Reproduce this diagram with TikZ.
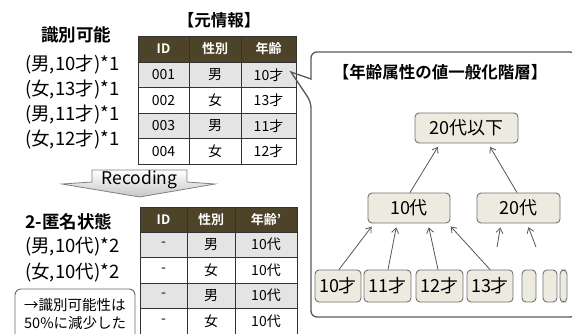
\documentclass[tikz,border=0pt]{standalone}
\usepackage{fontspec}
\setmainfont{Noto Sans CJK JP}[BoldFont={Noto Sans CJK JP Bold}]
\usetikzlibrary{arrows.meta}
\definecolor{hdr}{HTML}{4D4329}
\definecolor{rowg}{HTML}{E4E4E4}
\definecolor{beige}{HTML}{EDEBE0}
\definecolor{bord}{HTML}{333333}
\definecolor{nodeb}{HTML}{707070}
\definecolor{arr}{HTML}{555555}
\tikzset{
  cellbase/.style={draw=bord, line width=0.9pt, inner sep=0pt, font=\fontsize{14}{16}\selectfont},
  hcell/.style={cellbase, fill=hdr, text=white, font=\bfseries\fontsize{13}{15}\selectfont},
  lst/.style={anchor=west, inner sep=0pt, font=\fontsize{18.5}{20}\selectfont},
  ttl/.style={inner sep=0pt, font=\bfseries\fontsize{16.5}{18}\selectfont},
  tnode/.style={draw=nodeb, fill=beige, rounded corners=4pt, line width=0.9pt, inner sep=0pt, font=\fontsize{18}{20}\selectfont},
  garrow/.style={draw=arr, line width=0.8pt, -{Straight Barb[length=5pt,width=7pt]}, shorten >=4pt},
}
\begin{document}
\begin{tikzpicture}[x=1pt,y=-1pt]
\useasboundingbox (0,0) rectangle (572,333);
% ---- left texts
\node[ttl, font=\bfseries\fontsize{17.5}{19}\selectfont] (t-kahi) at (76,35) {識別可能};
\node[lst] (l1) at (25,65) {(男,10才)*1};
\node[lst] (l2) at (25,90) {(女,13才)*1};
\node[lst] (l3) at (25,115) {(男,11才)*1};
\node[lst] (l4) at (25,140) {(女,12才)*1};
\node[ttl] (t-moto) at (219,20) {【元情報】};
% ---- top table
\foreach \c/\xa/\xb/\t in {1/138/189/ID,2/189/241/性別,3/241/296/年齢}
  \node[hcell, minimum width={(\xb-\xa)*1pt}, minimum height=26pt] (ta0\c) at ({(\xa+\xb)/2},49) {\t};
\foreach \r/\ya/\yb/\f/\a/\b/\cc in {1/62/87.5/rowg/001/男/10才,2/87.5/113/white/002/女/13才,3/113/138.5/rowg/003/男/11才,4/138.5/164/white/004/女/12才}{
  \node[cellbase, fill=\f, minimum width=51pt, minimum height={(\yb-\ya)*1pt}] (ta\r1) at (163.5,{(\ya+\yb)/2}) {\a};
  \node[cellbase, fill=\f, minimum width=52pt, minimum height={(\yb-\ya)*1pt}] (ta\r2) at (215,{(\ya+\yb)/2}) {\b};
  \node[cellbase, fill=\f, minimum width=55pt, minimum height={(\yb-\ya)*1pt}] (ta\r3) at (268.5,{(\ya+\yb)/2}) {\cc};
}
% ---- Recoding arrow
\shade[top color=white, bottom color=black!22, draw=black!50, line width=0.8pt]
  (92,170) -- (187,170) -- (187,182) -- (215,184) -- (139.5,197) -- (62,184) -- (92,182) -- cycle;
\node[inner sep=0pt, font=\fontsize{17.5}{19}\selectfont] (rec) at (139.5,180) {Recoding};
% ---- anonymised texts
\node[ttl, anchor=west, font=\bfseries\fontsize{17.5}{19}\selectfont] (t-anon) at (25,222) {2-匿名状態};
\node[lst] (m1) at (25,247) {(男,10代)*2};
\node[lst] (m2) at (25,273) {(女,10代)*2};
\draw[draw=black!60, line width=0.9pt, rounded corners=6pt] (15,345) -- (15,289) -- (135,289) -- (135,345);
\node[anchor=west, inner sep=0pt, font=\fontsize{14.5}{16}\selectfont] (n1) at (24,305) {→識別可能性は};
\node[anchor=west, inner sep=0pt, font=\fontsize{14.5}{16}\selectfont] (n2) at (24,323) {50\%に減少した};
% ---- bottom table
\foreach \c/\xa/\xb/\t in {1/140/187/ID,2/187/235/性別,3/235/297/年齢'}
  \node[hcell, minimum width={(\xb-\xa)*1pt}, minimum height=25pt] (tb0\c) at ({(\xa+\xb)/2},219.5) {\t};
\foreach \r/\ya/\yb/\f/\b in {1/232/257.5/rowg/男,2/257.5/283/white/女,3/283/308.5/rowg/男,4/308.5/334/white/女}{
  \node[cellbase, fill=\f, minimum width=47pt, minimum height={(\yb-\ya)*1pt}] (tb\r1) at (163.5,{(\ya+\yb)/2}) {-};
  \node[cellbase, fill=\f, minimum width=48pt, minimum height={(\yb-\ya)*1pt}] (tb\r2) at (211,{(\ya+\yb)/2}) {\b};
  \node[cellbase, fill=\f, minimum width=62pt, minimum height={(\yb-\ya)*1pt}] (tb\r3) at (266,{(\ya+\yb)/2}) {10代};
}
% ---- callout
\draw[draw=black!65, line width=1.3pt, rounded corners=6pt]
  (311,79) -- (311,52) -- (576,52) -- (576,317) -- (311,317) -- (311,102) [sharp corners] -- (291,72) -- cycle;
\node[ttl] (t-hier) at (440,72) {【年齢属性の値一般化階層】};
% ---- tree
\node[tnode, minimum width=103pt, minimum height=30pt] (top) at (466.5,128) {20代以下};
\node[tnode, minimum width=82pt, minimum height=30pt] (d10) at (409,208) {10代};
\node[tnode, minimum width=83pt, minimum height=30pt] (d20) at (518.5,208) {20代};
\node[tnode, minimum width=46pt, minimum height=32pt] (a10) at (338,286) {10才};
\node[tnode, minimum width=47pt, minimum height=32pt] (a11) at (387.5,286) {11才};
\node[tnode, minimum width=47pt, minimum height=32pt] (a12) at (439.5,286) {12才};
\node[tnode, minimum width=46pt, minimum height=32pt] (a13) at (490,286) {13才};
\node[tnode, minimum width=14pt, minimum height=32pt] (b1) at (529,286) {};
\node[tnode, minimum width=14pt, minimum height=32pt] (b2) at (550,286) {};
\node[tnode, minimum width=7pt, minimum height=32pt] (b3) at (563.5,286) {};
\coordinate (f1) at (497,247);
\coordinate (f2) at (536,247);
\draw[garrow] (d10.north -| 410,0) -- (top.south -| 440,0);
\draw[garrow] (d20.north -| 517,0) -- (top.south -| 488,0);
\draw[garrow] (a10.north -| 339,0) -- (d10.south -| 374,0);
\draw[garrow] (a11.north -| 388,0) -- (d10.south -| 397,0);
\draw[garrow] (a12.north -| 438,0) -- (d10.south -| 428,0);
\draw[garrow] (a13.north -| 490,0) -- (d10.south -| 448,0);
\draw[garrow] (f1) -- (d20.south -| 501,0);
\draw[garrow] (f2) -- (d20.south -| 527,0);
\end{tikzpicture}
\end{document}
